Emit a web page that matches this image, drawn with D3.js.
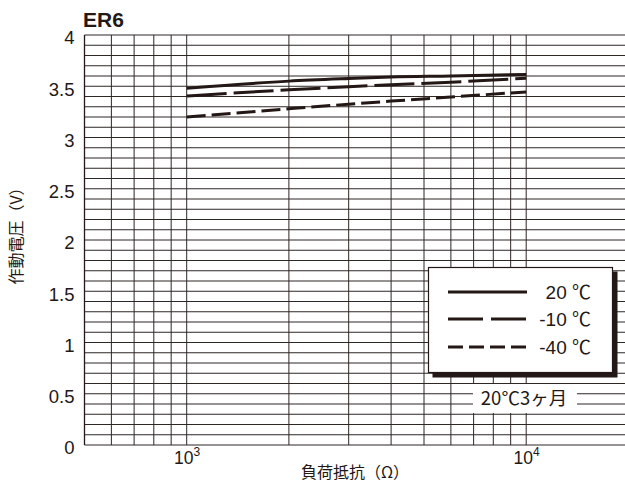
<!DOCTYPE html>
<html>
<head>
<meta charset="utf-8">
<script src="https://cdn.jsdelivr.net/npm/d3@7"></script>
<style>
  html, body { margin: 0; padding: 0; background: #fff; }
  svg { display: block; }
  text { font-family: "Liberation Sans", Arial, "Noto Sans CJK JP", sans-serif; fill: #231815; }
  .jp { font-family: "Noto Sans CJK JP", "Liberation Sans", sans-serif; }
</style>
</head>
<body>
<svg id="chart" width="625" height="484"></svg>
<script>
// Load resistance (Ω) and operating voltage (V) for ER6 cells
const resistance = [1000, 2000, 3000, 4000, 6000, 10000];
const volt20 = [3.48, 3.55, 3.575, 3.59, 3.60, 3.615];
const voltMinus10 = [3.405, 3.465, 3.495, 3.515, 3.54, 3.578];
const voltMinus40 = [3.20, 3.28, 3.325, 3.355, 3.395, 3.445];

const seriesNames = ["20 ℃", "-10 ℃", "-40 ℃"];
const yTickValues = [0, 0.5, 1, 1.5, 2, 2.5, 3, 3.5, 4];
const xTickValues = [1000, 10000];
const xTickExponents = ["3", "4"];
const xGridValues = [600, 700, 800, 900, 1000, 2000, 3000, 4000, 5000, 6000, 7000, 8000, 9000, 10000];
const yGridValues = d3.range(0, 41).map(i => i / 10);

const ink = "#231815";
const svg = d3.select("#chart");

const plotLeft = 84.5, plotTop = 35, plotBottom = 445;
const decade = 339.5;
const x = d3.scaleLog().domain([500, 20000]).range([plotLeft, plotLeft + Math.log10(40) * decade]);
const y = d3.scaleLinear().domain([0, 4]).range([plotBottom, plotTop]);

// Grid
const grid = svg.append("g");
grid.selectAll("line.h").data(yGridValues).join("line")
  .attr("x1", plotLeft).attr("x2", 625)
  .attr("y1", d => y(d)).attr("y2", d => y(d))
  .attr("stroke", "#2e2724").attr("stroke-width", 1);
grid.selectAll("line.v").data(xGridValues).join("line")
  .attr("x1", d => x(d)).attr("x2", d => x(d))
  .attr("y1", plotTop).attr("y2", plotBottom)
  .attr("stroke", "#2e2724").attr("stroke-width", 1);
grid.append("line")
  .attr("x1", plotLeft).attr("x2", plotLeft).attr("y1", plotTop).attr("y2", plotBottom)
  .attr("stroke", ink).attr("stroke-width", 1.3);

// Y axis labels
const yAxis = svg.append("g")
  .attr("transform", `translate(${plotLeft - 6},0)`)
  .call(d3.axisLeft(y).tickValues(yTickValues).tickSize(0).tickFormat(d => String(d)));
yAxis.select(".domain").remove();
yAxis.selectAll("text")
  .attr("x", -4).attr("dy", "0.48em")
  .style("font-size", "18.5px").attr("fill", ink)
  .style("font-family", "'Liberation Sans', Arial, sans-serif");

// X axis labels (powers of ten)
const xAxis = svg.append("g")
  .attr("transform", `translate(0,${plotBottom})`)
  .call(d3.axisBottom(x).tickValues(xTickValues).tickSize(0).tickFormat(""));
xAxis.select(".domain").remove();
xAxis.selectAll(".tick").each(function(d, i) {
  const t = d3.select(this).select("text")
    .attr("y", 19).attr("dy", 0)
    .attr("fill", ink)
    .style("font-family", "'Liberation Sans', Arial, sans-serif")
    .style("font-size", "17.5px")
    .attr("text-anchor", "middle");
  t.text(null);
  t.append("tspan").text("10");
  t.append("tspan").attr("dy", -8).style("font-size", "12px").text(xTickExponents[i]);
});

// Curves
const lineGen = d3.line()
  .x(d => x(d[0]))
  .y(d => y(d[1]))
  .curve(d3.curveMonotoneX);

const series = [
  { values: volt20, dash: null },
  { values: voltMinus10, dash: "40 7" },
  { values: voltMinus40, dash: "19 6" }
];
svg.append("g").selectAll("path").data(series).join("path")
  .attr("d", s => lineGen(resistance.map((r, i) => [r, s.values[i]])))
  .attr("fill", "none")
  .attr("stroke", ink)
  .attr("stroke-width", 3)
  .attr("stroke-dasharray", s => s.dash);

// Title
svg.append("text")
  .attr("x", 83).attr("y", 27)
  .style("font-size", "21px").style("font-weight", "bold")
  .text("ER6");

// Axis titles
svg.append("text").attr("class", "jp")
  .attr("x", 355).attr("y", 478)
  .attr("text-anchor", "middle")
  .style("font-size", "16px")
  .text("負荷抵抗（Ω）");

svg.append("text").attr("class", "jp")
  .attr("transform", "translate(22,232) rotate(-90)")
  .attr("text-anchor", "middle")
  .style("font-size", "16px")
  .text("作動電圧（V）");

// Legend
const legend = svg.append("g");
legend.append("rect")
  .attr("x", 432.5).attr("y", 271.5).attr("width", 185).attr("height", 106)
  .attr("fill", ink);
legend.append("rect")
  .attr("x", 428.5).attr("y", 267.5).attr("width", 184).attr("height", 105)
  .attr("fill", "#fff").attr("stroke", ink).attr("stroke-width", 1.2);

const legendDash = [null, "35 8", "15 6"];
const legendRows = [292, 319, 347];
seriesNames.forEach((name, i) => {
  legend.append("line")
    .attr("x1", 448).attr("x2", 527)
    .attr("y1", legendRows[i]).attr("y2", legendRows[i])
    .attr("stroke", ink).attr("stroke-width", 3)
    .attr("stroke-dasharray", legendDash[i]);
  legend.append("text")
    .attr("x", 591).attr("y", legendRows[i] + 7)
    .attr("text-anchor", "end")
    .style("font-size", "19px")
    .text(name);
});

// Storage condition note
svg.append("rect")
  .attr("x", 473).attr("y", 384).attr("width", 104).attr("height", 29)
  .attr("fill", "#fff");
svg.append("text").attr("class", "jp")
  .attr("x", 524).attr("y", 405)
  .attr("text-anchor", "middle")
  .style("font-size", "18.5px")
  .text("20℃3ヶ月");
</script>
</body>
</html>
